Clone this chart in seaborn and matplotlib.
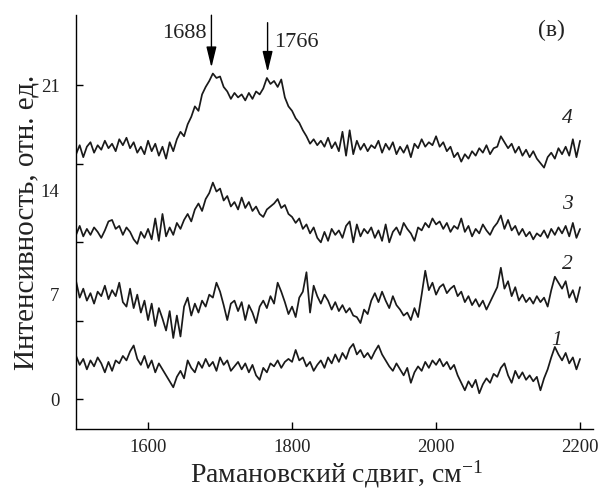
import numpy as np
import pandas as pd
import matplotlib
matplotlib.use("Agg")
import matplotlib.pyplot as plt
from matplotlib.ticker import FixedLocator
import seaborn as sns

# ---- data ----
shift = np.arange(1500, 2201, 5)  # Raman shift grid, cm^-1

c4 = [16.4, 17.0, 16.2, 16.9, 17.2, 16.5, 17.0, 16.7, 17.3, 16.8, 17.1, 16.6, 17.4, 17.0, 17.5, 16.8,
      17.2, 16.5, 16.9, 16.4, 17.3, 16.6, 17.1, 16.3, 16.9, 16.1, 17.2, 16.6, 17.4, 17.9, 17.6, 18.4,
      18.9, 19.6, 19.3, 20.4, 20.9, 21.3, 21.8, 21.5, 21.6, 20.9, 20.6, 20.1, 20.5, 20.2, 20.4, 20.0,
      20.5, 20.1, 20.6, 20.4, 20.8, 21.5, 21.1, 21.3, 20.9, 21.4, 20.2, 19.6, 19.3, 18.8, 18.5, 18.0,
      17.6, 17.1, 17.4, 17.0, 17.3, 16.9, 17.5, 16.8, 17.2, 16.6, 17.9, 16.3, 18.0, 16.4, 17.3, 16.7,
      17.1, 16.6, 17.0, 16.8, 17.3, 16.5, 17.1, 16.7, 17.2, 16.4, 16.9, 16.5, 17.0, 16.2, 17.1, 16.8,
      17.4, 16.9, 17.2, 17.0, 17.6, 16.9, 17.2, 16.6, 16.9, 16.2, 16.5, 15.9, 16.4, 16.1, 16.6, 16.3,
      16.8, 16.5, 17.0, 16.4, 16.8, 16.9, 17.6, 17.2, 16.8, 17.1, 16.5, 16.9, 16.3, 16.7, 16.2, 16.6,
      16.1, 15.8, 15.5, 16.2, 16.5, 16.1, 16.8, 16.4, 16.9, 16.3, 17.4, 16.2, 17.3]

c3 = [11.0, 11.6, 10.9, 11.4, 11.0, 11.5, 11.2, 10.8, 11.3, 11.9, 12.0, 11.4, 11.6, 11.0, 11.5, 11.2,
      10.7, 10.4, 11.2, 10.8, 11.4, 10.7, 12.1, 10.6, 12.4, 10.9, 11.5, 11.0, 11.8, 11.4, 12.0, 12.4,
      11.9, 12.7, 13.1, 12.6, 13.4, 13.8, 14.5, 13.9, 14.1, 13.3, 13.6, 12.9, 13.2, 12.7, 13.5, 12.8,
      13.2, 12.6, 12.9, 12.4, 12.2, 12.7, 12.9, 13.1, 13.4, 12.8, 13.0, 12.4, 12.2, 11.8, 12.1, 11.4,
      11.7, 11.1, 11.5, 10.8, 10.5, 11.2, 10.6, 11.4, 11.0, 11.3, 10.8, 11.6, 11.9, 10.5, 11.7, 10.9,
      11.4, 11.1, 11.5, 10.8, 11.3, 10.6, 11.7, 10.5, 11.2, 11.5, 11.0, 11.8, 11.4, 11.1, 10.6, 11.5,
      11.3, 11.8, 11.5, 12.1, 11.7, 11.9, 11.4, 11.8, 11.2, 11.6, 11.4, 12.1, 11.2, 11.6, 10.9, 11.4,
      11.1, 11.7, 11.3, 11.0, 11.5, 11.8, 12.3, 11.4, 12.0, 11.3, 11.6, 11.0, 11.4, 10.9, 11.2, 10.7,
      11.1, 10.9, 11.3, 10.8, 11.4, 11.0, 11.5, 11.1, 11.6, 10.9, 11.8, 10.8, 11.4]

c2 = [7.9, 6.8, 7.4, 6.6, 7.1, 6.4, 7.2, 6.9, 7.6, 6.7, 7.3, 6.9, 7.8, 6.5, 6.2, 7.4,
      6.1, 7.0, 5.8, 6.6, 5.3, 6.4, 4.9, 6.1, 5.4, 4.6, 5.9, 4.1, 5.6, 4.2, 6.2, 6.8,
      5.6, 6.4, 5.8, 6.6, 6.2, 7.0, 6.8, 7.8, 7.2, 6.3, 5.3, 6.4, 6.6, 5.9, 6.5, 5.3,
      6.3, 5.8, 5.1, 6.2, 6.6, 6.1, 6.9, 6.4, 7.8, 7.2, 6.5, 5.7, 6.2, 5.5, 6.8, 7.2,
      8.5, 5.8, 7.6, 6.9, 6.4, 7.0, 6.6, 6.0, 6.5, 5.9, 6.3, 5.8, 6.1, 5.6, 5.5, 5.1,
      6.0, 5.7, 6.6, 7.1, 6.5, 7.2, 6.6, 6.1, 6.9, 6.3, 6.0, 5.6, 5.8, 5.3, 6.1, 5.5,
      7.0, 8.6, 7.3, 7.8, 7.0, 7.5, 7.7, 7.1, 7.4, 7.6, 6.9, 7.2, 6.5, 6.9, 6.3, 6.7,
      6.2, 6.6, 6.0, 6.5, 7.0, 7.5, 8.8, 7.4, 7.9, 6.9, 7.5, 6.6, 7.0, 6.5, 6.8, 6.4,
      6.9, 6.5, 6.8, 6.2, 7.3, 8.2, 7.8, 7.4, 7.9, 6.8, 7.3, 6.5, 7.5]

c1 = [2.9, 2.3, 2.7, 2.0, 2.6, 2.2, 2.8, 2.4, 1.8, 2.5, 1.9, 2.6, 2.4, 2.9, 2.6, 3.2,
      3.6, 2.7, 2.3, 2.9, 2.1, 2.6, 1.8, 2.4, 2.0, 1.6, 1.2, 0.8, 1.5, 1.9, 1.4, 2.6,
      2.1, 1.8, 2.5, 2.1, 2.7, 2.2, 2.5, 1.9, 2.8, 2.3, 2.6, 1.9, 2.2, 2.5, 2.0, 2.4,
      1.8, 2.3, 1.6, 1.3, 2.1, 1.8, 2.4, 2.2, 2.6, 2.1, 2.5, 2.7, 2.5, 3.3, 2.6, 2.8,
      2.2, 2.5, 1.9, 2.3, 2.6, 2.1, 2.8, 2.4, 3.0, 2.5, 3.1, 2.7, 3.4, 3.7, 3.0, 3.3,
      2.8, 3.1, 2.7, 3.2, 3.6, 3.0, 2.6, 2.2, 1.9, 2.4, 2.0, 1.6, 2.1, 1.1, 1.8, 2.2,
      1.9, 2.5, 2.1, 2.6, 2.3, 2.7, 2.2, 2.5, 2.0, 2.3, 1.6, 1.1, 0.6, 1.2, 0.8, 1.3,
      0.4, 1.0, 1.4, 1.1, 1.7, 1.5, 2.1, 2.4, 1.6, 1.1, 1.9, 1.4, 1.8, 1.3, 1.6, 1.2,
      1.5, 0.6, 1.4, 2.0, 2.8, 3.5, 3.0, 2.6, 3.1, 2.4, 2.8, 2.0, 2.7]

curve_labels = ["1", "2", "3", "4"]
label_x = [2168, 2182, 2182, 2182]
label_y = [3.9, 9.0, 13.0, 18.8]
peaks = [1688, 1766]

# ---- style ----
sns.set_theme(style="ticks")
plt.rcParams["font.family"] = ["Liberation Serif", "DejaVu Serif"]
plt.rcParams["mathtext.fontset"] = "custom"
plt.rcParams["mathtext.rm"] = "Liberation Serif"
plt.rcParams["mathtext.it"] = "Liberation Serif:italic"

fig = plt.figure(figsize=(5.99, 4.91), dpi=100, facecolor="white")
ax = fig.add_axes([0.127, 0.126, 0.863, 0.843])
ax.set_facecolor("white")

df = pd.DataFrame({"shift": np.tile(shift, 4),
                   "I": np.concatenate([c1, c2, c3, c4]),
                   "curve": np.repeat(curve_labels, len(shift))})
sns.lineplot(data=df, x="shift", y="I", units="curve", estimator=None,
             color="#1a1a1a", linewidth=1.25, ax=ax, legend=False)

ax.set_xlim(1500, 2218)
ax.set_ylim(-2.0, 25.7)

for s in ["top", "right"]:
    ax.spines[s].set_visible(False)
for s in ["left", "bottom"]:
    ax.spines[s].set_color("black")
    ax.spines[s].set_linewidth(1.0)

ax.set_xticks([1600, 1800, 2000, 2200])
ax.set_yticks([0, 7, 14, 21])
ax.yaxis.set_minor_locator(FixedLocator([0, 5.25, 10.5, 15.75, 21]))
ax.yaxis.remove_overlapping_locs = False
ax.tick_params(axis="x", which="major", direction="in", length=5, width=1,
               labelsize=13.5, colors="black", labelcolor="#222222", pad=7)
ax.tick_params(axis="y", which="major", length=0, labelsize=13.5, colors="black",
               labelcolor="#222222", pad=12)
ax.tick_params(axis="y", which="minor", direction="in", length=5, width=1, colors="black")

ax.set_xlabel("Рамановский сдвиг, см$^{-1}$", fontsize=20, color="#222222")
ax.xaxis.label.set_va("bottom")
ax.xaxis.set_label_coords(0.505, -0.146)
ax.set_ylabel("Интенсивность, отн. ед.", fontsize=21, color="#222222")
ax.yaxis.label.set_va("baseline")
ax.yaxis.set_label_coords(-0.083, 0.5)

# peak arrows
arrow_tops = [25.7, 25.2]
arrow_tips = [22.2, 21.9]
for p, top, tip in zip(peaks, arrow_tops, arrow_tips):
    ax.annotate("", xy=(p, tip), xytext=(p, top), annotation_clip=False,
                arrowprops=dict(arrowstyle="-|>,head_length=0.9,head_width=0.22",
                                color="black", lw=1.0, shrinkA=0, shrinkB=0,
                                mutation_scale=14))
ax.text(1681, 24.5, str(peaks[0]), ha="right", va="center", fontsize=16, color="#222222")
ax.text(1775, 23.9, str(peaks[1]), ha="left", va="center", fontsize=16, color="#222222")
ax.text(2160, 24.7, "(в)", ha="center", va="center", fontsize=17, color="#222222")

for lab, lx, ly in zip(curve_labels, label_x, label_y):
    ax.text(lx, ly, lab, ha="center", va="center", fontsize=15.5, style="italic", color="#222222")

fig.savefig("out.png", dpi=100, facecolor="white")
